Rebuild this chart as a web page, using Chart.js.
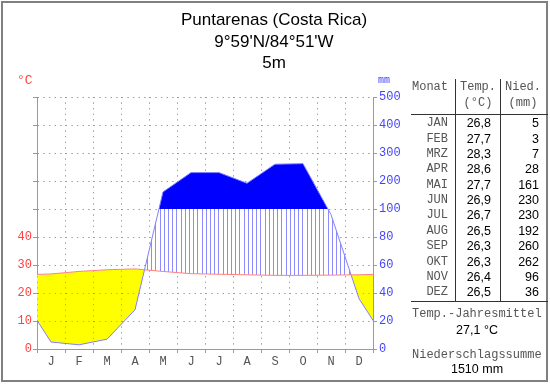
<!DOCTYPE html>
<html><head><meta charset="utf-8">
<script src="https://cdn.jsdelivr.net/npm/chart.js@4/dist/chart.umd.min.js"></script>
<style>
html,body{margin:0;padding:0;background:#fff;}
#wrap{position:relative;width:550px;height:384px;overflow:hidden;background:#fff;}
#frame{position:absolute;left:1px;top:1px;width:547px;height:381px;border:2px solid #808080;box-sizing:border-box;}
canvas{position:absolute;left:0;top:0;}
.t{position:absolute;white-space:nowrap;line-height:1;transform:translateY(-50%);}
.c{transform:translate(-50%,-50%);}
.title{font-family:"Liberation Sans",Arial,sans-serif;font-size:17px;color:#000;}
.mono{font-family:"Liberation Mono","Courier New",monospace;font-size:12px;color:#555;}
.num{font-family:"Liberation Sans",Arial,sans-serif;font-size:12.5px;color:#000;}
.hl{position:absolute;height:1px;background:#333;}
.vl{position:absolute;width:1px;background:#333;}
</style>
</head><body>
<div id="wrap">
<canvas id="c" width="550" height="384"></canvas>
<div id="frame"></div>
<div id="texts"></div>
</div>
<script>
// ---- data ----
const stationName = "Puntarenas (Costa Rica)";
const stationCoords = "9°59'N/84°51'W";
const stationElevation = "5m";
const monthLetters = ['J','F','M','A','M','J','J','A','S','O','N','D'];
const monthAbbr = ['JAN','FEB','MRZ','APR','MAI','JUN','JUL','AUG','SEP','OKT','NOV','DEZ'];
const temperature = [26.8, 27.7, 28.3, 28.6, 27.7, 26.9, 26.7, 26.5, 26.3, 26.3, 26.4, 26.5];
const precipitation = [5, 3, 7, 28, 161, 230, 230, 192, 260, 262, 96, 36];
const tempTickLabels = [0, 10, 20, 30, 40];
const precipTickLabels = [0, 20, 40, 60, 80, 100, 200, 300, 400, 500];
const annualMeanTemp = "27,1 °C";
const annualPrecip = "1510 mm";

// ---- scale helpers (Walter-Lieth: 10 °C = 20 mm up to 100 mm, then 10 °C = 100 mm) ----
const precipToUnit = p => p <= 100 ? p / 2 : 50 + (p - 100) / 10;
const unitToPrecip = u => u <= 50 ? u * 2 : 100 + (u - 50) * 10;
// month centres, with Dec of previous year and Jan of next year wrapping round (clipped by the axis)
const wrap = (arr, f) => [{x: -0.5, y: f(arr[11])}]
  .concat(arr.map((v, i) => ({x: i + 0.5, y: f(v)})))
  .concat([{x: 12.5, y: f(arr[0])}]);
const fmt = v => v.toFixed(1).replace('.', ',');

// ---- hatch pattern (opaque: white with light blue vertical lines) ----
const pc = document.createElement('canvas');
pc.width = 21; pc.height = 4;
const pctx = pc.getContext('2d');
pctx.fillStyle = '#ffffff';
pctx.fillRect(0, 0, 21, 4);
pctx.fillStyle = '#8c8cff';
[0, 4, 8, 13, 17].forEach(x => pctx.fillRect(x, 0, 1, 4));
const hatch = document.getElementById('c').getContext('2d').createPattern(pc, 'repeat');

const gridCol = '#9a9a9a';
const monoFont = {family: '"Liberation Mono", "Courier New", monospace', size: 12};
const none = 'rgba(0,0,0,0)';

// redraw the dotted grid right after the yellow (arid) area, so it shows on yellow but stays under hatch/blue
const gridOverArid = {
  id: 'gridOverArid',
  afterDatasetDraw(chart, args) {
    if (args.index === 3) {
      chart.scales.x.drawGrid(chart.chartArea);
      chart.scales.y.drawGrid(chart.chartArea);
    }
  }
};

new Chart(document.getElementById('c'), {
  type: 'line',
  plugins: [gridOverArid],
  data: {
    datasets: [
      { // 0: temperature
        data: wrap(temperature, v => v),
        borderWidth: 1, borderColor: '#ff8080', pointRadius: 0, tension: 0, clip: 0,
        fill: false
      },
      { // 1: humid > 100 mm: solid blue, plus precipitation curve
        data: wrap(precipitation, precipToUnit),
        borderWidth: 1, borderColor: '#8080ff', pointRadius: 0, tension: 0, clip: 0,
        fill: {target: {value: 50}, above: '#0000ff', below: none}
      },
      { // 2: humid: hatched
        data: wrap(precipitation, precipToUnit),
        borderWidth: 0, borderColor: none, pointRadius: 0, tension: 0, clip: 0,
        fill: {target: 0, above: hatch, below: none}
      },
      { // 3: arid: yellow
        data: wrap(precipitation, precipToUnit),
        borderWidth: 0, borderColor: none, pointRadius: 0, tension: 0, clip: 0,
        fill: {target: 0, above: none, below: '#ffff00'}
      }
    ]
  },
  options: {
    responsive: false, animation: false, devicePixelRatio: 1,
    layout: {padding: {left: 0, right: 147, top: 97, bottom: 15}},
    plugins: {legend: {display: false}, tooltip: {enabled: false}, title: {display: false},
      filler: {drawTime: 'beforeDatasetDraw'}},
    scales: {
      x: {
        type: 'linear', position: 'bottom', min: 0, max: 12,
        ticks: {stepSize: 1, autoSkip: false, maxRotation: 0, labelOffset: 14, padding: 2,
          color: '#555', font: monoFont,
          callback: v => (v >= 0 && v < 12) ? monthLetters[v] : ''},
        grid: {color: gridCol, lineWidth: 1, tickLength: 4, tickColor: gridCol, tickBorderDash: []},
        border: {display: true, color: gridCol, dash: [1, 4.6]},
        afterFit: s => { s.height = 20; }
      },
      y: {
        type: 'linear', position: 'left', min: 0, max: 90,
        ticks: {stepSize: 10, autoSkip: false, padding: 1, color: '#ff4040', font: monoFont,
          callback: v => tempTickLabels.includes(v) ? String(v) : ''},
        grid: {color: gridCol, lineWidth: 1, tickLength: 4, tickColor: gridCol, tickBorderDash: []},
        border: {display: true, color: gridCol, dash: [1, 4.6]},
        afterFit: s => { s.width = 37; }
      },
      y2: {
        type: 'linear', position: 'right', min: 0, max: 90,
        ticks: {stepSize: 10, autoSkip: false, padding: 2, color: '#4444ff', font: monoFont,
          callback: v => { const p = unitToPrecip(v); return precipTickLabels.includes(p) ? String(p) : ''; }},
        grid: {drawOnChartArea: false, tickLength: 4, tickColor: gridCol, tickBorderDash: []},
        border: {display: true, color: gridCol},
        afterFit: s => { s.width = 30; }
      }
    }
  }
});

// ---- texts and table (HTML) ----
const T = document.getElementById('texts');
function add(html, cls, style) {
  const d = document.createElement('div');
  d.className = 't ' + cls;
  d.innerHTML = html;
  Object.assign(d.style, style);
  T.appendChild(d);
  return d;
}
function line(cls, style) {
  const d = document.createElement('div');
  d.className = cls; Object.assign(d.style, style); T.appendChild(d);
}
add(stationName, 'title c', {left: '274px', top: '19px'});
add(stationCoords, 'title c', {left: '274px', top: '41px'});
add(stationElevation, 'title c', {left: '274px', top: '62px'});
add('°C', 'mono', {left: '17px', top: '80px', color: '#ff4040', fontSize: '13px'});
add('mm', 'mono', {left: '378px', top: '81px', color: '#4444ff', fontSize: '10px'});

// table
add('Monat', 'mono', {left: '412px', top: '87px'});
add('Temp.', 'mono c', {left: '478px', top: '87px'});
add('(°C)', 'mono c', {left: '478px', top: '103px'});
add('Nied.', 'mono c', {left: '523px', top: '87px'});
add('(mm)', 'mono c', {left: '523px', top: '103px'});
line('vl', {left: '455px', top: '79px', height: '223px'});
line('vl', {left: '500px', top: '79px', height: '223px'});
line('hl', {left: '411px', top: '114px', width: '137px'});
line('hl', {left: '411px', top: '301px', width: '137px'});
monthAbbr.forEach((m, i) => {
  const y = (123.3 + 15.36 * i) + 'px';
  add(m, 'mono', {right: (550 - 448) + 'px', top: y});
  add(fmt(temperature[i]), 'num', {right: (550 - 491) + 'px', top: y});
  add(String(precipitation[i]), 'num', {right: (550 - 539) + 'px', top: y});
});
add('Temp.-Jahresmittel', 'mono', {left: '412px', top: '314px'});
add(annualMeanTemp, 'num c', {left: '477px', top: '330px'});
add('Niederschlagssumme', 'mono', {left: '412px', top: '355px'});
add(annualPrecip, 'num c', {left: '477px', top: '369px'});
</script>
</body></html>
